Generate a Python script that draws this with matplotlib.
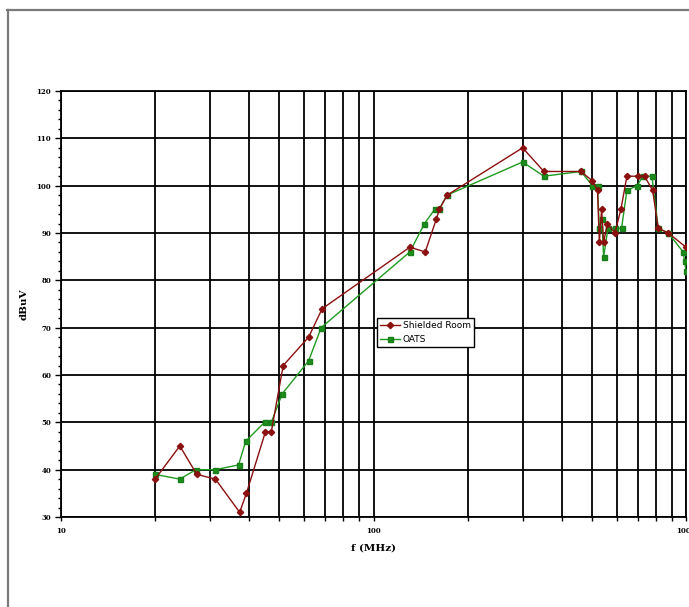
import matplotlib
matplotlib.use("Agg")
import matplotlib.pyplot as plt
from matplotlib.lines import Line2D
from matplotlib.ticker import LogLocator, FixedLocator, NullFormatter, MultipleLocator

# ---- data ----
shielded_f = [20, 24, 27.2, 31.2, 37.3, 39.2, 45.1, 47.1, 51.4, 62, 68.5, 130.7, 146.4, 159,
              162.5, 172, 300, 351, 461, 502, 521, 528, 537, 545, 560, 592, 619, 647, 702,
              737, 782, 815, 878, 1000]
shielded_v = [38, 45, 39, 38, 31, 35, 48, 48, 62, 68, 74, 87, 86, 93,
              95, 98, 108, 103, 103, 101, 99, 88, 95, 88, 92, 90, 95, 102, 102,
              102, 99, 91, 90, 87]

oats_f = [20, 24, 27, 31.2, 37, 39, 44.8, 47.1, 51, 62, 68, 130.7, 145.6, 157, 162, 172,
          300, 351, 461, 502, 521, 528, 538, 545, 563, 592, 622, 647, 698, 728, 778, 815,
          878, 979, 990, 1000]
oats_v = [39, 38, 40, 40, 41, 46, 50, 50, 56, 63, 70, 86, 92, 95, 95, 98,
          105, 102, 103, 100, 100, 91, 93, 85, 91, 91, 91, 99, 100, 102, 102, 91,
          90, 86, 84, 82]

x_ticks = [10, 100, 1000]
x_tick_labels = ["10", "100", "1000"]
y_ticks = [30, 40, 50, 60, 70, 80, 90, 100, 110, 120]
series_names = ["Shielded Room", "OATS"]

fig = plt.figure(figsize=(6.89, 6.07), dpi=100)
ax = fig.add_axes([61/689, 1-517/607, (686-61)/689, (517-91)/607])

ax.set_xscale("log")
ax.set_xlim(10, 1000)
ax.set_ylim(30, 120)

ax.plot(shielded_f, shielded_v, color="#8b1010", lw=1.0, marker="D", ms=3.2,
        mec="#8b1010", mfc="#8b1010", label=series_names[0], zorder=4)
ax.plot(oats_f, oats_v, color="#1f9a1f", lw=1.0, marker="s", ms=3.6,
        mec="#1a7f1a", mfc="#1a8f1a", label=series_names[1], zorder=3)

ax.xaxis.set_major_locator(FixedLocator(x_ticks))
ax.set_xticklabels(x_tick_labels)
ax.xaxis.set_minor_locator(LogLocator(base=10, subs=range(2, 10)))
ax.xaxis.set_minor_formatter(NullFormatter())
ax.yaxis.set_major_locator(FixedLocator(y_ticks))
ax.yaxis.set_minor_locator(MultipleLocator(2))

ax.grid(True, which="major", axis="both", color="black", lw=1.3)
ax.grid(True, which="minor", axis="x", color="black", lw=1.3)

for sp in ax.spines.values():
    sp.set_color("black")
    sp.set_linewidth(1.3)

for lab in ax.get_xticklabels() + ax.get_yticklabels():
    lab.set_fontfamily("DejaVu Serif")
    lab.set_fontsize(5)
    lab.set_fontweight("bold")
ax.tick_params(axis="y", which="major", length=4, width=1, pad=3)
ax.tick_params(axis="y", which="minor", length=2, width=1)
ax.tick_params(axis="x", which="both", length=3, width=1, pad=4)

ax.set_xlabel("f (MHz)", fontfamily="DejaVu Serif", fontsize=7.5, fontweight="bold", labelpad=6)
ax.set_ylabel("dBuV", fontfamily="DejaVu Serif", fontsize=7.5, fontweight="bold", labelpad=6)

leg = ax.legend(loc="upper left", bbox_to_anchor=((377-61)/625, (517-318)/426),
                prop=dict(family="DejaVu Sans", size=6.5), frameon=True, fancybox=False,
                borderpad=0.35, handlelength=2.2, handletextpad=0.3, labelspacing=0.5,
                borderaxespad=0)
leg.get_frame().set_edgecolor("black")
leg.get_frame().set_linewidth(1.0)
leg.get_frame().set_alpha(1)

# outer border lines (top and left)
fig.add_artist(Line2D([7/689, 1], [1-10/607, 1-10/607], color="#7a7a7a", lw=1.6))
fig.add_artist(Line2D([8/689, 8/689], [0, 1-10/607], color="#7a7a7a", lw=1.6))

fig.savefig("out.png", dpi=100)
